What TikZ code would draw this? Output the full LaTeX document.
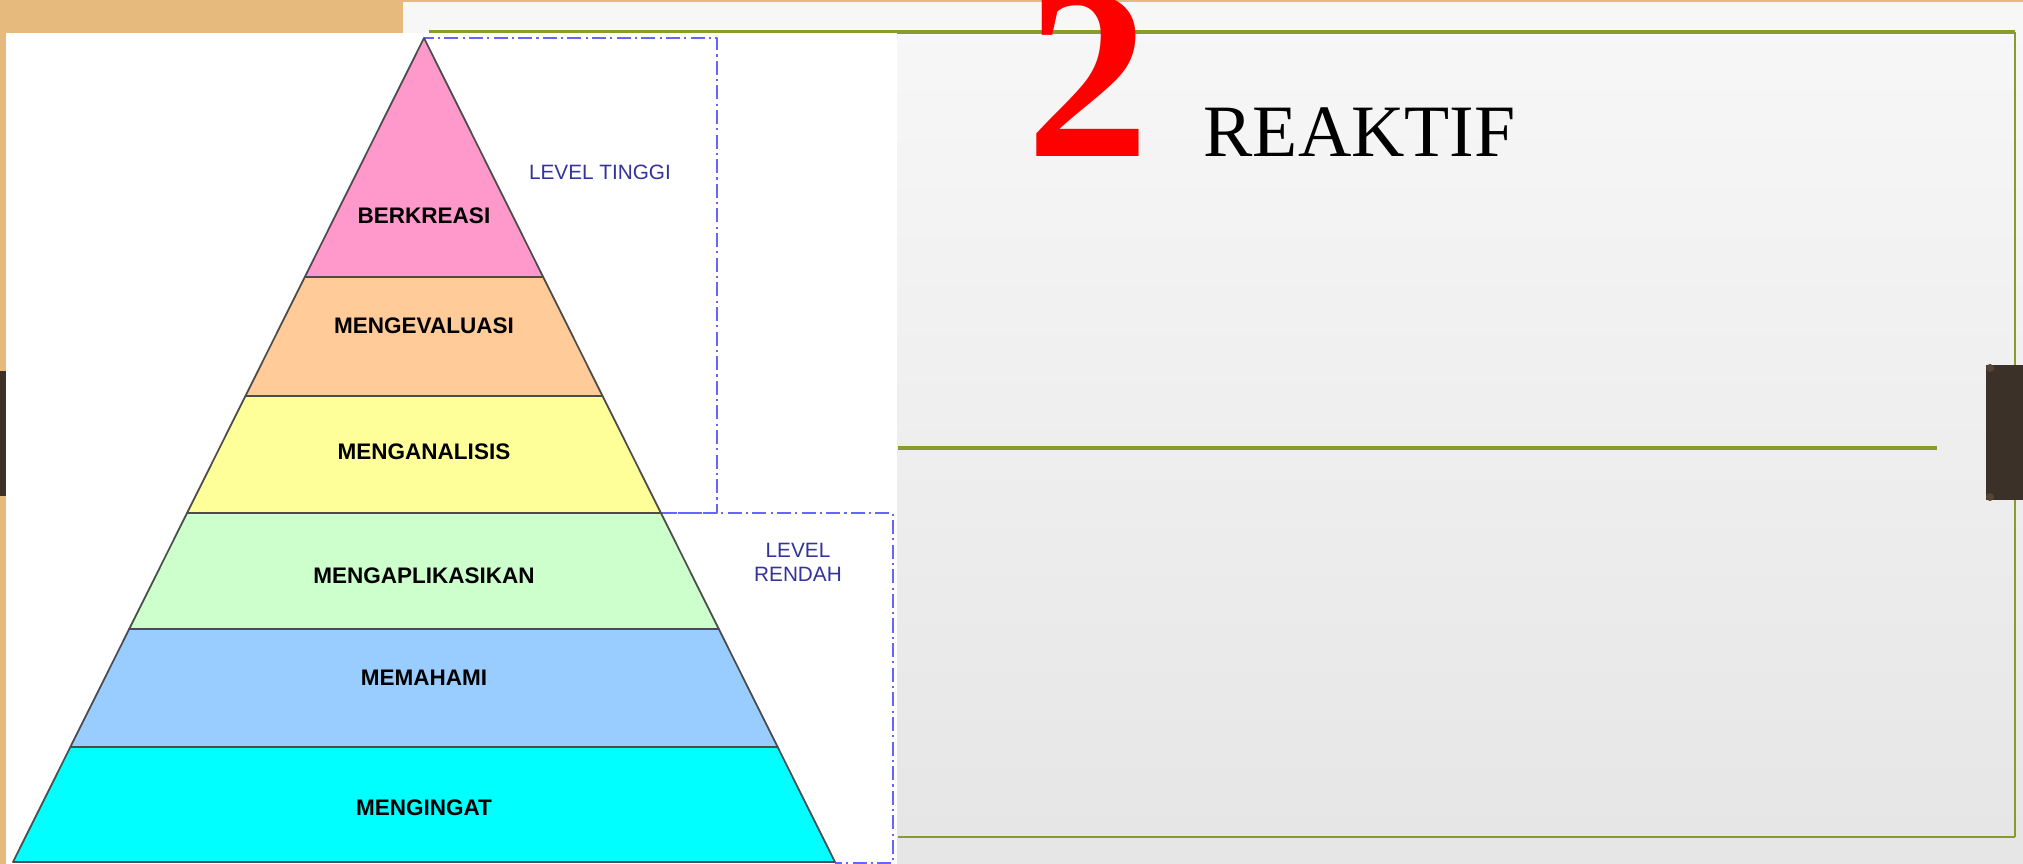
\documentclass[tikz,border=0pt]{standalone}
\usepackage{fontspec}
\setmainfont{Liberation Serif}
\setsansfont{Liberation Sans}
\usetikzlibrary{calc}
\definecolor{tanwood}{RGB}{230,185,125}
\definecolor{darkwood}{RGB}{59,49,40}
\definecolor{slidegreen}{RGB}{137,155,45}
\definecolor{dashblue}{RGB}{102,102,255}
\definecolor{lvlblue}{RGB}{51,51,153}
\definecolor{pinkband}{RGB}{255,153,204}
\definecolor{peachband}{RGB}{255,204,153}
\definecolor{yellowband}{RGB}{255,255,153}
\definecolor{greenband}{RGB}{204,255,204}
\definecolor{blueband}{RGB}{153,204,255}
\definecolor{cyanband}{RGB}{0,255,255}

\begin{document}
\begin{tikzpicture}[x=0.01cm,y=-0.01cm,line join=round,
  band/.style={draw=black!70,line width=0.5pt},
  bandlabel/.style={font=\sffamily\bfseries\fontsize{6.4pt}{7pt}\selectfont,inner sep=0pt},
  levellabel/.style={font=\sffamily\fontsize{5.9pt}{6.8pt}\selectfont,text=lvlblue,align=center,inner sep=0pt},
  levelbox/.style={draw=dashblue,line width=0.45pt,dash pattern=on 4pt off 1.2pt on 0.6pt off 1.2pt}]
  \useasboundingbox (0,0) rectangle (2023,864); \clip (0,0) rectangle (2023,864);
  \fill[tanwood] (0,0) rectangle (2023,864);
  \fill[darkwood] (0,371) rectangle (8,496);
  \shade[top color=black!3,bottom color=black!10] (403,3) rectangle (2023,864);
  \draw[slidegreen,line width=0.9pt] (429,32) -- (2015,32);
  \draw[slidegreen,line width=0.45pt] (2015,32) -- (2015,837);
  \draw[slidegreen,line width=0.75pt] (898,837) -- (2015,837);
  \draw[slidegreen,line width=0.9pt] (898,448) -- (1937,448);
  \fill[darkwood] (1986,365) rectangle (2023,500);
  \fill[darkwood!85!tanwood] (1990,368) circle (4); \fill[darkwood!85!tanwood] (1990,497) circle (4);
  \node[text=red,font=\bfseries\fontsize{70pt}{70pt}\selectfont,anchor=base west,inner sep=0pt] (num) at (1026,157) {2};
  \node[font=\fontsize{21pt}{21pt}\selectfont,anchor=base west,inner sep=0pt] (title) at (1203,157) {REAKTIF};
  \fill[white] (6,33) rectangle (897,864);
  \draw[levelbox] (424,38) rectangle (717,513);
  \draw[levelbox] (580,513) -- (893,513) -- (893,863) -- (835,863);
  \node[levellabel] (tinggi) at (600,172) {LEVEL TINGGI};
  \node[levellabel] (rendah) at (798,562) {LEVEL\\RENDAH};
  \coordinate (A) at (424,38); \coordinate (L) at (13,862); \coordinate (R) at (835,862);
  \foreach \ta/\tb/\col/\ly/\nm/\txt in {0/.29/pinkband/216/cre/BERKREASI,.29/.4345/peachband/326/eva/MENGEVALUASI,
    .4345/.5765/yellowband/452/ana/MENGANALISIS,.5765/.7172/greenband/576/apl/MENGAPLIKASIKAN,
    .7172/.8604/blueband/678/pah/MEMAHAMI,.8604/1/cyanband/808/ing/MENGINGAT} {
    \filldraw[band,fill=\col] ($(A)!\ta!(L)$) -- ($(A)!\ta!(R)$) -- ($(A)!\tb!(R)$) -- ($(A)!\tb!(L)$) -- cycle;
    \node[bandlabel] (\nm) at (424,\ly) {\txt};}
\end{tikzpicture}
\end{document}
